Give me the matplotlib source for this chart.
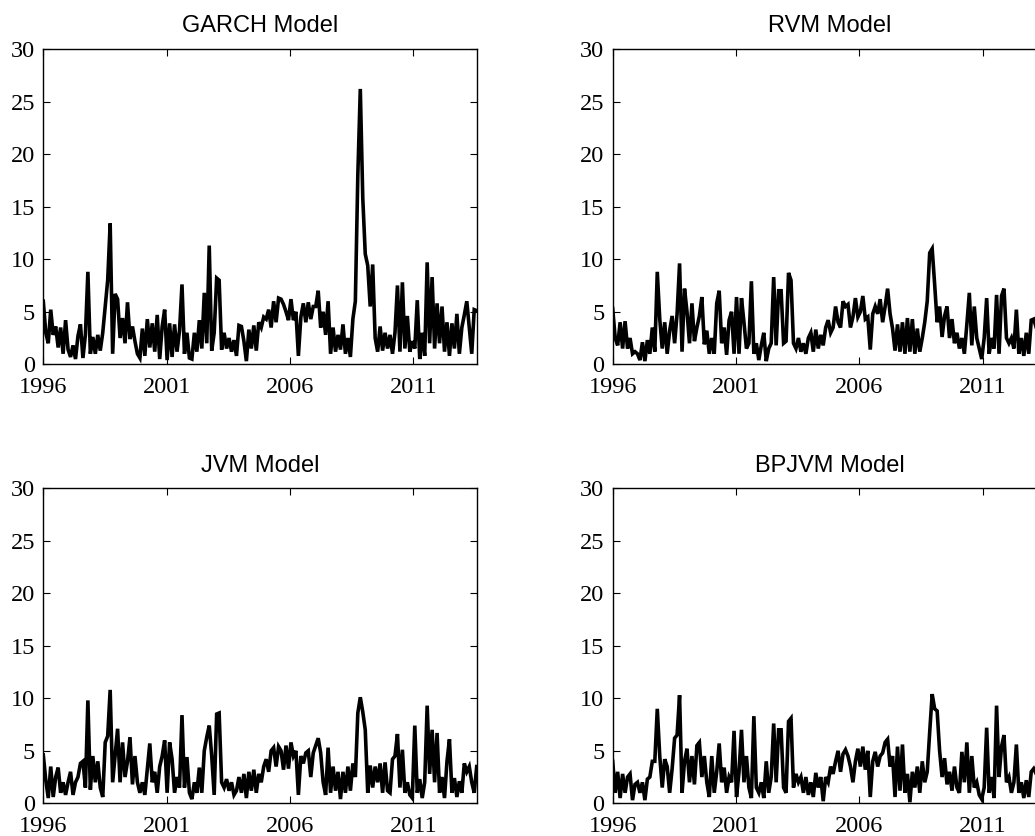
import numpy as np
import matplotlib.pyplot as plt

# Values, 10 per year from 1996.0 (last row = 2013)
garch = [
    6.0, 3.0, 2.0, 5.2, 2.8, 3.6, 1.6, 3.5, 1.0, 4.2,
    1.4, 0.7, 1.8, 0.5, 2.7, 3.8, 0.6, 2.8, 8.8, 1.0,
    2.6, 1.0, 2.8, 1.3, 3.0, 5.5, 8.0, 13.4, 1.0, 6.7,
    6.2, 2.5, 4.4, 2.0, 5.9, 2.4, 3.6, 2.2, 1.0, 0.6,
    3.4, 0.8, 4.3, 1.6, 3.9, 1.2, 4.7, 0.5, 3.6, 5.2,
    0.4, 3.9, 0.7, 3.8, 1.2, 3.2, 7.6, 1.0, 3.0, 0.6,
    0.5, 3.0, 1.2, 4.2, 1.5, 6.8, 2.0, 11.3, 1.3, 3.0,
    8.2, 8.0, 1.4, 3.0, 1.5, 2.5, 1.2, 2.3, 0.8, 3.7,
    3.6, 2.2, 0.3, 3.3, 1.5, 3.7, 1.3, 4.0, 3.5, 4.5,
    4.3, 5.2, 3.5, 6.0, 4.0, 6.3, 6.2, 5.7, 5.0, 4.2,
    6.2, 4.2, 5.0, 0.8, 4.5, 5.8, 4.0, 5.9, 4.3, 5.5,
    5.5, 7.0, 3.5, 5.0, 2.8, 6.0, 1.0, 3.5, 1.2, 2.8,
    1.4, 3.8, 1.0, 2.5, 0.7, 4.3, 6.0, 18.0, 26.2, 15.8,
    10.5, 9.4, 5.5, 9.5, 2.5, 1.2, 3.6, 1.3, 3.0, 1.5,
    2.8, 1.0, 3.0, 7.5, 1.2, 7.8, 1.5, 4.6, 1.2, 2.2,
    1.5, 6.1, 0.5, 3.0, 0.8, 9.7, 2.0, 8.3, 1.5, 5.8,
    2.0, 5.5, 1.2, 4.0, 0.8, 3.9, 1.5, 4.8, 1.0, 3.5,
    4.7, 6.0, 3.5, 1.0, 5.2, 5.1,
]
rvm = [
    5.3, 2.5, 1.8, 4.0, 1.5, 4.1, 1.5, 2.5, 1.0, 1.2,
    1.0, 0.4, 2.1, 0.3, 2.3, 1.0, 3.5, 1.2, 8.8, 4.3,
    1.5, 4.0, 1.0, 3.2, 4.6, 2.0, 4.8, 9.6, 1.2, 7.2,
    5.0, 2.0, 5.8, 2.2, 3.5, 4.6, 6.4, 1.9, 3.2, 1.0,
    2.5, 1.0, 5.8, 7.0, 2.0, 3.5, 0.9, 4.2, 5.0, 1.0,
    6.4, 1.0, 6.3, 4.0, 1.5, 2.0, 7.9, 1.0, 2.0, 0.4,
    1.8, 3.0, 0.3, 1.5, 2.0, 8.3, 1.8, 7.0, 7.0, 2.0,
    2.2, 8.7, 8.0, 2.0, 1.5, 2.5, 1.2, 2.0, 1.0, 2.5,
    3.0, 1.2, 3.3, 1.5, 2.8, 1.8, 3.5, 4.2, 3.0, 3.5,
    5.5, 4.0, 3.5, 6.0, 5.5, 5.7, 3.5, 4.5, 6.3, 4.5,
    5.0, 6.5, 4.3, 4.5, 1.4, 4.8, 5.5, 4.8, 6.2, 4.0,
    5.5, 7.2, 4.8, 3.4, 1.3, 3.8, 1.2, 4.0, 1.0, 4.4,
    1.2, 4.3, 1.0, 3.4, 1.2, 2.5, 4.0, 6.0, 10.6, 11.0,
    7.6, 4.0, 5.5, 2.6, 4.6, 5.5, 2.5, 4.3, 2.0, 3.0,
    1.5, 2.5, 1.0, 3.8, 6.8, 1.8, 5.5, 2.5, 1.5, 0.5,
    2.5, 6.3, 1.0, 2.5, 1.5, 6.6, 1.0, 6.5, 7.2, 2.5,
    2.0, 2.5, 1.5, 5.2, 1.0, 2.5, 0.8, 3.0, 1.0, 4.2,
    4.3, 3.5, 4.0, 3.8, 3.5, 3.6,
]
jvm = [
    4.6, 2.2, 0.5, 3.5, 0.6, 2.5, 3.4, 1.0, 2.0, 0.8,
    2.0, 3.0, 0.8, 2.0, 2.5, 3.8, 4.0, 1.5, 9.8, 1.3,
    4.5, 2.0, 4.0, 1.5, 0.6, 5.8, 6.4, 10.8, 2.0, 4.5,
    7.1, 2.0, 5.8, 2.5, 4.0, 6.3, 1.8, 4.5, 2.0, 1.0,
    2.0, 0.8, 3.2, 5.7, 2.0, 3.0, 1.0, 3.5, 4.5, 6.0,
    1.0, 5.8, 4.2, 1.0, 2.5, 1.5, 8.4, 1.5, 4.4, 1.0,
    0.4, 2.0, 1.0, 3.4, 1.0, 5.0, 6.3, 7.4, 4.5, 0.8,
    8.5, 8.6, 2.0, 1.5, 2.3, 1.2, 2.0, 0.8, 1.2, 2.5,
    1.0, 2.8, 0.5, 3.0, 1.2, 3.2, 1.0, 2.8, 2.0, 3.5,
    4.2, 3.0, 5.0, 5.3, 3.5, 5.4, 5.0, 3.2, 5.5, 3.3,
    5.8, 4.5, 5.0, 0.8, 4.5, 3.8, 4.8, 5.0, 2.5, 4.8,
    5.5, 6.2, 4.8, 2.0, 0.8, 5.3, 1.0, 3.5, 1.2, 3.0,
    0.4, 3.0, 1.0, 3.5, 1.2, 3.8, 2.5, 8.6, 10.1, 8.7,
    7.0, 1.0, 3.6, 1.5, 3.5, 2.0, 3.8, 1.0, 3.9, 1.2,
    1.0, 4.2, 4.5, 6.6, 1.5, 5.1, 1.0, 2.0, 0.8, 0.5,
    7.4, 1.0, 2.3, 0.5, 2.0, 9.3, 2.8, 7.0, 2.0, 6.7,
    1.0, 2.5, 0.5, 4.0, 6.1, 1.0, 2.4, 0.6, 2.1, 1.0,
    3.8, 3.0, 3.5, 2.0, 1.0, 3.5,
]
bpjvm = [
    4.0, 1.0, 3.0, 0.5, 2.8, 1.0, 2.5, 2.8, 0.3, 1.8,
    2.0, 1.0, 2.0, 0.3, 2.3, 2.5, 4.0, 4.0, 9.0, 4.5,
    1.5, 4.2, 3.5, 1.0, 3.3, 6.2, 6.5, 10.3, 1.0, 4.0,
    5.2, 2.0, 4.5, 1.8, 5.5, 5.8, 2.5, 4.5, 2.0, 0.6,
    4.5, 1.0, 3.0, 5.7, 2.0, 3.4, 1.0, 2.5, 2.0, 6.9,
    0.6, 3.0, 7.0, 2.0, 4.5, 1.5, 0.5, 8.3, 1.5, 1.0,
    2.0, 0.5, 4.0, 1.0, 2.5, 7.6, 2.0, 7.0, 7.0, 1.5,
    1.0, 7.8, 8.1, 1.5, 2.8, 2.0, 2.5, 1.0, 2.5, 0.8,
    2.0, 0.6, 2.9, 1.5, 2.5, 0.2, 2.5, 2.0, 3.5, 2.8,
    4.0, 5.0, 3.0, 4.7, 5.1, 4.5, 3.5, 2.0, 4.0, 5.2,
    3.5, 5.4, 3.2, 5.0, 0.6, 4.0, 4.9, 3.5, 4.5, 4.8,
    5.8, 6.1, 3.5, 4.5, 0.6, 5.4, 1.2, 5.6, 1.0, 2.8,
    0.1, 3.0, 1.5, 3.5, 1.0, 4.0, 2.0, 3.0, 6.8, 10.4,
    9.0, 8.8, 5.0, 2.5, 4.3, 1.8, 3.0, 1.2, 3.5, 1.5,
    1.0, 4.9, 2.0, 5.8, 1.0, 4.5, 1.5, 2.0, 0.8, 0.4,
    1.5, 7.2, 1.0, 2.5, 0.5, 9.3, 2.5, 5.4, 6.5, 2.0,
    2.5, 1.0, 2.0, 5.6, 1.0, 2.0, 0.5, 2.2, 0.6, 3.0,
    3.3, 2.8, 3.5, 3.0, 3.2, 3.0,
]

titles = ['GARCH Model', 'RVM Model', 'JVM Model', 'BPJVM Model']
series = [garch, rvm, jvm, bpjvm]
x_start, x_end = 1996, 2013.57
xticks = [1996, 2001, 2006, 2011]
yticks = [0, 5, 10, 15, 20, 25, 30]

W, H = 1035, 836
fig = plt.figure(figsize=(W / 100, H / 100), dpi=100)

# axes boxes in pixels: left, top, width, height (right column runs off the page)
boxes = [(43.3, 49.0, 433.4, 315.3), (612.7, 49.0, 433.4, 315.3),
         (43.3, 488.3, 433.4, 315.0), (612.7, 488.3, 433.4, 315.0)]

for (l, t, w, h), vals, title in zip(boxes, series, titles):
    ax = fig.add_axes([l / W, 1 - (t + h) / H, w / W, h / H])
    x = np.linspace(x_start, x_end, len(vals))
    ax.plot(x, vals, color='black', lw=2.6, solid_joinstyle='miter')
    ax.set_xlim(x_start, x_end)
    ax.set_ylim(0, 30)
    ax.set_xticks(xticks)
    ax.set_yticks(yticks)
    ax.tick_params(direction='in', top=True, right=True, length=5, width=0.8,
                   labelsize=17.5)
    ax.tick_params(axis='x', pad=9)
    ax.tick_params(axis='y', pad=6)
    for lab in ax.get_xticklabels() + ax.get_yticklabels():
        lab.set_family('Liberation Serif')
    for s in ax.spines.values():
        s.set_linewidth(1.0)
    ax.set_title(title, family='Liberation Sans', fontsize=17, pad=12)

fig.savefig('out.png', dpi=100)
